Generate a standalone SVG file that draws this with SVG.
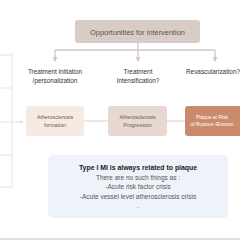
<svg xmlns="http://www.w3.org/2000/svg" width="240" height="240" viewBox="0 0 240 240">
<style>
text{font-family:"Liberation Sans",Arial,sans-serif;text-anchor:middle;fill:#333}
.lbl{font-size:6.4px}
.box{font-size:5.3px;fill:#6b5a52}
.wt{font-size:5px;fill:#fff}
.tb{fill:none;stroke:#e4e4e4;stroke-width:1}
.conn{fill:none;stroke:#d2c6bf;stroke-width:1.3}
.link{fill:none;stroke:#efdcd0;stroke-width:1.3}
.body{font-size:6.5px;fill:#555}
</style>
<defs>
<marker id="ah" viewBox="0 0 6 6" refX="5" refY="3" markerWidth="4" markerHeight="4" orient="auto">
<path d="M0,0 L6,3 L0,6 z" fill="#d2c6bf"/>
</marker>
<marker id="ahg" viewBox="0 0 6 6" refX="5" refY="3" markerWidth="4" markerHeight="4" orient="auto">
<path d="M0,0 L6,3 L0,6 z" fill="#e0e0e0"/>
</marker>
</defs>
<rect width="240" height="240" fill="#fff"/>
<g id="table">
<path class="tb" d="M12,53 V187 M0,55 H12 M0,88 H12 M0,122 H12 M0,155 H12 M0,187 H12"/>
</g>
<g id="connectors">
<path class="conn" d="M138,43 V50 M55,50 H215"/>
<path class="conn" d="M55,50 V61" marker-end="url(#ah)"/>
<path class="conn" d="M138,50 V61" marker-end="url(#ah)"/>
<path class="conn" d="M215,50 V61" marker-end="url(#ah)"/>
<path fill="none" stroke="#e0e0e0" stroke-width="1" d="M13,122 H23" marker-end="url(#ahg)"/>
<path class="link" d="M84,121 H108 M167,121 H185"/>
</g>
<g id="opportunities">
<rect x="75" y="20" width="125" height="23" rx="3" fill="#d8cdc6"/>
<text x="137.5" y="34.5" style="font-size:7.4px;fill:#555">Opportunities for intervention</text>
</g>
<g id="label-initiation">
<text class="lbl" x="55" y="74">Treatment initiation</text>
<text class="lbl" x="55" y="83">/personalization</text>
</g>
<g id="label-intensification">
<text class="lbl" x="138" y="74">Treatment</text>
<text class="lbl" x="138" y="83">Intensification?</text>
</g>
<g id="label-revasc">
<text class="lbl" x="213" y="74">Revascularization?</text>
</g>
<g id="formation">
<rect x="26" y="106" width="58" height="30" rx="3" fill="#f6eae2"/>
<text class="box" x="55" y="119">Atherosclerosis</text>
<text class="box" x="55" y="126.5">formation</text>
</g>
<g id="progression">
<rect x="108" y="106" width="59" height="30" rx="3" fill="#e7d9d1"/>
<text class="box" x="137.5" y="119">Atherosclerosis</text>
<text class="box" x="137.5" y="126.5">Progression</text>
</g>
<g id="plaque">
<rect x="185" y="106" width="60" height="30" rx="3" fill="#c98b6b"/>
<text class="wt" x="212" y="119">Plaque at Risk</text>
<text class="wt" x="212" y="126">of Rupture /Erosion</text>
</g>
<g id="note">
<rect x="48" y="155" width="180" height="63" rx="5" fill="#eef3fa"/>
<text x="138" y="170" style="font-size:6.9px;font-weight:bold;fill:#222">Type I MI is always related to plaque</text>
<text class="body" x="138" y="179.5">There are no such things as :</text>
<text class="body" x="138" y="189">-Acute risk factor crisis</text>
<text class="body" x="138" y="198.5">-Acute vessel level atherosclerosis crisis</text>
<text class="body" x="138" y="208">.</text>
</g>
<rect x="0" y="238" width="240" height="2" fill="#e2e2e2"/>
</svg>
